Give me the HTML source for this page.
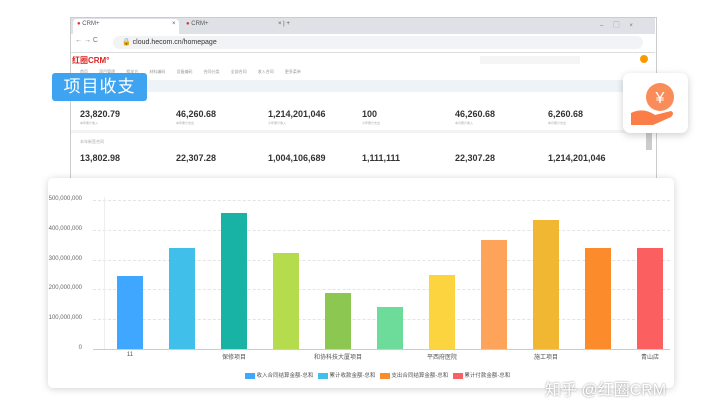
<!DOCTYPE html>
<html><head><meta charset="utf-8"><style>
body{margin:0;width:720px;height:417px;background:#fff;position:relative;overflow:hidden;font-family:"Liberation Sans","Noto Sans CJK SC",sans-serif}
.a{position:absolute}
.n{position:absolute;font-size:9px;font-weight:bold;color:#333}
.s{position:absolute;font-size:3px;color:#aaa;}
.yl{position:absolute;font-size:6px;color:#666;right:638px;text-align:right}
.xl{position:absolute;font-size:6px;color:#555;transform:translateX(-50%)}
.g{position:absolute;left:93px;width:577px;border-top:1px dashed #e4e4e4}
</style></head><body>
<!-- browser -->
<div class="a" style="left:70px;top:17px;width:585px;height:160px;border:1px solid #ccc;background:#fff"></div>
<div class="a" style="left:71px;top:18px;width:584px;height:16px;background:#dee1e6"></div>
<div class="a" style="left:73px;top:19px;width:106px;height:15px;background:#fff;border-radius:4px 4px 0 0"></div>
<div class="a" style="left:77px;top:21px;font-size:6px;color:#555"><span style="color:#d33">●</span> CRM+</div>
<div class="a" style="left:172px;top:21px;font-size:6px;color:#555">×</div>
<div class="a" style="left:186px;top:21px;font-size:6px;color:#555"><span style="color:#d33">●</span> CRM+</div>
<div class="a" style="left:278px;top:21px;font-size:6px;color:#555">× | +</div>
<div class="a" style="left:600px;top:20px;font-size:6px;color:#777;letter-spacing:10px">–▢×</div>
<div class="a" style="left:71px;top:34px;width:584px;height:18px;background:#fff;border-bottom:1px solid #ddd"></div>
<div class="a" style="left:75px;top:37px;font-size:7px;color:#777">← → C</div>
<div class="a" style="left:113px;top:36px;width:530px;height:13px;background:#f1f3f4;border-radius:7px"></div>
<div class="a" style="left:122px;top:38px;font-size:7px;color:#333">🔒 cloud.hecom.cn/homepage</div>
<div class="a" style="left:72px;top:55px;font-size:8px;color:#d22;font-weight:bold">红圈CRM°</div>
<div class="a" style="left:480px;top:56px;width:100px;height:8px;background:#f5f5f5"></div>
<div class="a" style="left:640px;top:55px;width:8px;height:8px;border-radius:50%;background:#f90"></div>
<div class="a" style="left:80px;top:69px;font-size:4px;color:#999;word-spacing:10px">首页 项目管理 相关方 材料编码 设备编码 合同分类 全部合同 收入合同 更多菜单</div>
<div class="a" style="left:71px;top:80px;width:584px;height:12px;background:#eef3f8"></div>
<div class="a" style="left:71px;top:130px;width:575px;height:3px;background:#f3f3f3"></div>
<div class="a" style="left:646px;top:95px;width:6px;height:55px;background:#ccc"></div>
<div class="n" style="left:80px;top:109px">23,820.79</div><div class="s" style="left:80px;top:121px">本年累计收入</div>
<div class="n" style="left:176px;top:109px">46,260.68</div><div class="s" style="left:176px;top:121px">本年累计支出</div>
<div class="n" style="left:268px;top:109px">1,214,201,046</div><div class="s" style="left:268px;top:121px">今年累计收入</div>
<div class="n" style="left:362px;top:109px">100</div><div class="s" style="left:362px;top:121px">今年累计支出</div>
<div class="n" style="left:455px;top:109px">46,260.68</div><div class="s" style="left:455px;top:121px">本月累计收入</div>
<div class="n" style="left:548px;top:109px">6,260.68</div><div class="s" style="left:548px;top:121px">本月累计支出</div>
<div class="s" style="left:80px;top:139px;font-size:4px">本年新签合同</div>
<div class="n" style="left:80px;top:153px">13,802.98</div>
<div class="n" style="left:176px;top:153px">22,307.28</div>
<div class="n" style="left:268px;top:153px">1,004,106,689</div>
<div class="n" style="left:362px;top:153px">1,111,111</div>
<div class="n" style="left:455px;top:153px">22,307.28</div>
<div class="n" style="left:548px;top:153px">1,214,201,046</div>
<!-- badge -->
<div class="a" style="left:52px;top:73px;width:95px;height:28px;background:#3ea3f0;border-radius:3px;color:#fff;font-size:17px;line-height:28px;text-align:center;letter-spacing:1px">项目收支</div>
<div class="a" style="left:623px;top:73px;width:65px;height:60px;background:#fff;border-radius:7px;box-shadow:0 2px 8px rgba(0,0,0,.2)">
<svg width="65" height="60"><circle cx="37" cy="24" r="14" fill="#fa8c5a"/><text x="37" y="30" font-size="16" fill="#fff" text-anchor="middle" font-family="Liberation Sans">¥</text><path d="M8 40 Q20 34 32 42 L48 38 Q52 40 48 44 L30 52 Q18 52 8 52Z" fill="#fb7d47"/></svg></div>
<!-- chart card -->
<div class="a" style="left:48px;top:178px;width:626px;height:210px;background:#fff;border-radius:5px;box-shadow:0 1px 8px rgba(0,0,0,.18)"></div>
<div class="g" style="top:200px"></div><div class="g" style="top:230px"></div><div class="g" style="top:260px"></div><div class="g" style="top:289px"></div><div class="g" style="top:319px"></div>
<div class="a" style="left:104px;top:197px;height:153px;border-left:1px solid #eee"></div>
<div class="a" style="left:93px;top:349px;width:577px;border-top:1px solid #ccc"></div>
<div class="yl" style="top:196px">500,000,000</div><div class="yl" style="top:226px">400,000,000</div><div class="yl" style="top:256px">300,000,000</div><div class="yl" style="top:285px">200,000,000</div><div class="yl" style="top:315px">100,000,000</div><div class="yl" style="top:345px">0</div>
<div class="a" style="left:117px;top:276px;width:26px;height:73px;background:#3fa7ff"></div>
<div class="a" style="left:169px;top:248px;width:26px;height:101px;background:#40bfea"></div>
<div class="a" style="left:221px;top:213px;width:26px;height:136px;background:#18b3a5"></div>
<div class="a" style="left:273px;top:253px;width:26px;height:96px;background:#b5dc4c"></div>
<div class="a" style="left:325px;top:293px;width:26px;height:56px;background:#8bc751"></div>
<div class="a" style="left:377px;top:307px;width:26px;height:42px;background:#6ddb99"></div>
<div class="a" style="left:429px;top:275px;width:26px;height:74px;background:#fcd43f"></div>
<div class="a" style="left:481px;top:240px;width:26px;height:109px;background:#fda35a"></div>
<div class="a" style="left:533px;top:220px;width:26px;height:129px;background:#f1b732"></div>
<div class="a" style="left:585px;top:248px;width:26px;height:101px;background:#fc8b2c"></div>
<div class="a" style="left:637px;top:248px;width:26px;height:101px;background:#fb5f5f"></div>
<div class="xl" style="left:130px;top:352px">11</div><div class="xl" style="left:234px;top:352px">保修项目</div><div class="xl" style="left:338px;top:352px">和协科技大厦项目</div><div class="xl" style="left:442px;top:352px">平西府医院</div><div class="xl" style="left:546px;top:352px">施工项目</div><div class="xl" style="left:650px;top:352px">青山店</div>
<div class="a" style="left:245px;top:371px;font-size:5.5px;color:#555;white-space:nowrap">
<span style="display:inline-block;width:10px;height:6px;background:#3fa7ff;vertical-align:middle"></span> 收入合同结算金额-总和 &nbsp;
<span style="display:inline-block;width:10px;height:6px;background:#40bfea;vertical-align:middle"></span> 累计收款金额-总和 &nbsp;
<span style="display:inline-block;width:10px;height:6px;background:#fc8b2c;vertical-align:middle"></span> 支出合同结算金额-总和 &nbsp;
<span style="display:inline-block;width:10px;height:6px;background:#fb5f5f;vertical-align:middle"></span> 累计付款金额-总和</div>
<div class="a" style="left:545px;top:376px;font-size:16px;color:#fff;text-shadow:0 0 2px #888;white-space:nowrap">知乎 @红圈CRM</div>
</body></html>
